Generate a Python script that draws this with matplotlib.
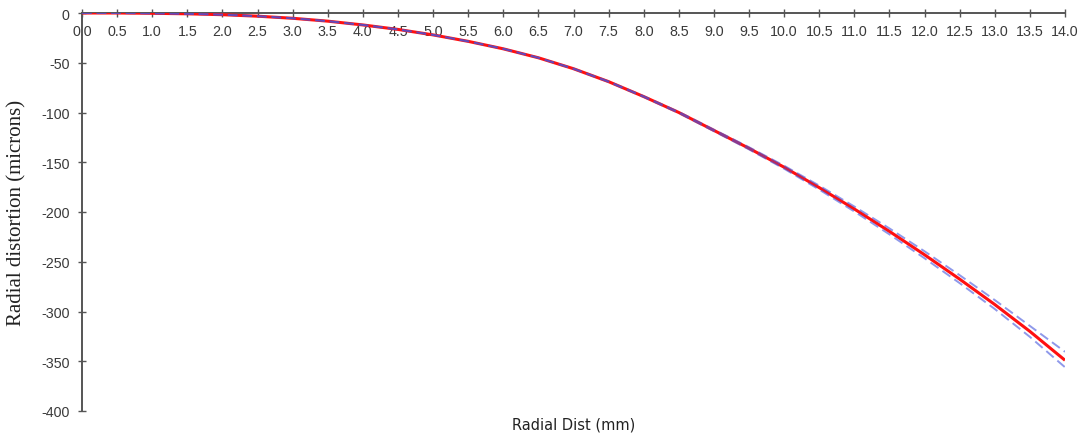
import matplotlib
matplotlib.use("Agg")
import matplotlib.pyplot as plt
import numpy as np

# Data
radial_dist = [0.0, 0.5, 1.0, 1.5, 2.0, 2.5, 3.0, 3.5, 4.0, 4.5, 5.0, 5.5, 6.0, 6.5,
               7.0, 7.5, 8.0, 8.5, 9.0, 9.5, 10.0, 10.5, 11.0, 11.5, 12.0, 12.5,
               13.0, 13.5, 14.0]
distortion = [0.0, 0.0, -0.3, -0.8, -1.7, -3.2, -5.3, -8.2, -12.0, -16.5, -22.0, -28.5,
              -36.0, -45.0, -56.0, -69.0, -84.0, -100.0, -118.0, -136.0, -155.0,
              -175.5, -197.0, -219.5, -243.0, -267.5, -293.0, -320.0, -349.0]
upper_bound = [0.0, 0.0, -0.3, -0.8, -1.7, -3.2, -5.3, -8.2, -12.0, -16.5, -22.0, -28.5,
               -36.0, -45.0, -55.8, -68.7, -83.6, -99.4, -117.2, -134.9, -153.5,
               -173.5, -194.5, -216.5, -239.5, -263.5, -288.5, -314.5, -340.5]
lower_bound = [0.0, 0.0, -0.3, -0.8, -1.7, -3.2, -5.3, -8.2, -12.0, -16.5, -22.0, -28.5,
               -36.0, -45.0, -56.2, -69.3, -84.4, -100.6, -118.8, -137.1, -156.5,
               -177.5, -199.5, -222.5, -246.5, -271.5, -297.5, -325.5, -356.0]

x_ticks = [i * 0.5 for i in range(29)]
y_ticks = [0, -50, -100, -150, -200, -250, -300, -350, -400]

fig = plt.figure(figsize=(10.87, 4.39), dpi=100)
ax = fig.add_axes([82 / 1087, 27 / 439, (1065 - 82) / 1087, (412 - 14) / 439])

ax.plot(radial_dist, distortion, color="#ff1010", lw=2.2, zorder=3, solid_capstyle="butt")
ax.plot(radial_dist, upper_bound, color="#4455dd", lw=1.4, alpha=0.6, dashes=(5, 2.5), zorder=4)
ax.plot(radial_dist, lower_bound, color="#4455dd", lw=1.4, alpha=0.6, dashes=(5, 2.5), zorder=4)

ax.set_xlim(0, 14.0)
ax.set_ylim(-400, 0)

for s in ["right", "top"]:
    ax.spines[s].set_visible(False)
ax.spines["bottom"].set_position(("data", 0))
ax.spines["bottom"].set_color("#555555")
ax.spines["bottom"].set_linewidth(1.4)
ax.spines["left"].set_color("#555555")
ax.spines["left"].set_linewidth(1.4)
ax.spines["bottom"].set_zorder(2)

ax.set_xticks(x_ticks)
ax.set_xticklabels([f"{v:.1f}" for v in x_ticks], family="Liberation Sans")
ax.set_yticks(y_ticks)
ax.set_yticklabels([str(v) for v in y_ticks], family="Liberation Sans")

ax.tick_params(axis="x", direction="inout", length=6, width=1.0, color="#555555",
               labelsize=10.3, labelcolor="#3a3a3a", pad=5)
ax.tick_params(axis="y", direction="inout", length=6, width=1.0, color="#555555",
               labelsize=10.3, labelcolor="#3a3a3a", pad=6)

ax.set_xlabel("Radial Dist (mm)", fontsize=10.5, color="#222222")
ax.xaxis.set_label_coords(0.5, -0.015)
ax.set_ylabel("Radial distortion (microns)", fontsize=15, family="Liberation Serif",
              color="#222222")
ax.yaxis.set_label_coords(-56 / 983, 0.5)

ax.patch.set_visible(False)
fig.savefig("out.png", dpi=100, facecolor="white")
